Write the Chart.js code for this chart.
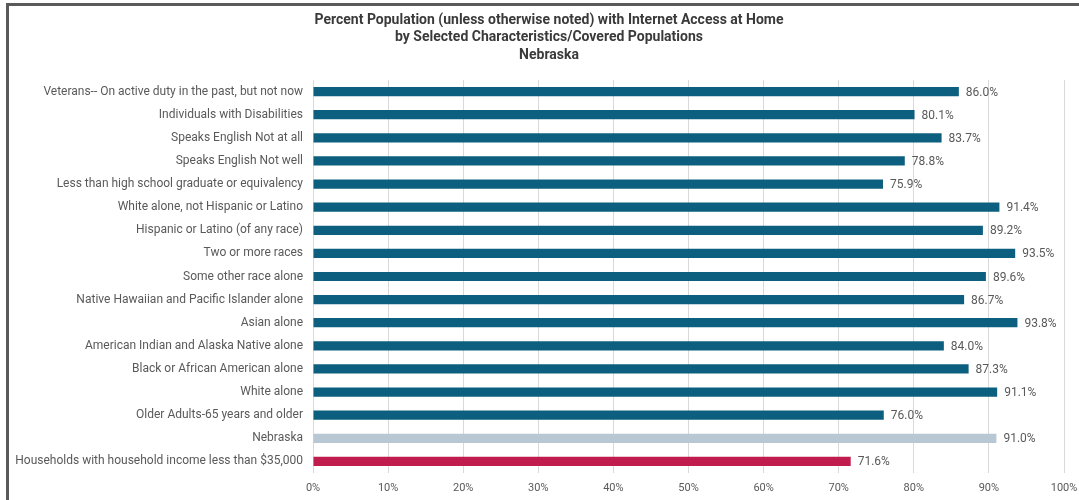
<!DOCTYPE html>
<html>
<head>
<meta charset="utf-8">
<script src="https://cdn.jsdelivr.net/npm/chart.js@4"></script>
<style>
  html, body { margin: 0; padding: 0; background: #fff; }
  #wrap { position: relative; width: 1079px; height: 500px; overflow: hidden; }
  #frame { position: absolute; left: 6px; top: 3px; width: 1200px; height: 600px;
           border-top: 3px solid #5a5a5a; border-left: 3px solid #5a5a5a; }
  #chart { position: absolute; left: 0; top: 0; }
</style>
</head>
<body>
<div id="wrap">
  <div id="frame"></div>
  <canvas id="chart" width="1079" height="500"></canvas>
</div>
<script>
// categories, top to bottom
const categories = [
  'Veterans-- On active duty in the past, but not now',
  'Individuals with Disabilities',
  'Speaks English Not at all',
  'Speaks English Not well',
  'Less than high school graduate or equivalency',
  'White alone, not Hispanic or Latino',
  'Hispanic or Latino (of any race)',
  'Two or more races',
  'Some other race alone',
  'Native Hawaiian and Pacific Islander alone',
  'Asian alone',
  'American Indian and Alaska Native alone',
  'Black or African American alone',
  'White alone',
  'Older Adults-65 years and older',
  'Nebraska',
  'Households with household income less than $35,000'
];
const values = [86.0, 80.1, 83.7, 78.8, 75.9, 91.4, 89.2, 93.5, 89.6, 86.7, 93.8, 84.0, 87.3, 91.1, 76.0, 91.0, 71.6];
const xTicks = [0, 10, 20, 30, 40, 50, 60, 70, 80, 90, 100];
const titleLines = [
  'Percent Population (unless otherwise noted) with Internet Access at Home',
  'by Selected Characteristics/Covered Populations',
  'Nebraska'
];

const BLUE = '#0d5f7f';
const GREY = '#b8c7d4';
const RED = '#c01c4e';
const TEXT = '#595959';
const FONT = "Roboto, 'Liberation Sans', sans-serif";

const barColors = categories.map(c =>
  c === 'Nebraska' ? GREY : (c.startsWith('Households') ? RED : BLUE));

// title drawn by hand so it can sit a bit right of centre, like the original
const titleBlock = {
  id: 'titleBlock',
  afterDraw(chart) {
    const ctx = chart.ctx;
    ctx.save();
    ctx.font = 'bold 14px ' + FONT;
    ctx.fillStyle = '#3a3a3a';
    ctx.textAlign = 'center';
    ctx.textBaseline = 'middle';
    titleLines.forEach((t, i) => ctx.fillText(t, 549, 20 + i * 17.5));
    ctx.restore();
  }
};

// simple value labels at the end of each bar
const valueLabels = {
  id: 'valueLabels',
  afterDatasetsDraw(chart) {
    const ctx = chart.ctx;
    const meta = chart.getDatasetMeta(0);
    ctx.save();
    ctx.font = '12px ' + FONT;
    ctx.fillStyle = TEXT;
    ctx.textAlign = 'left';
    ctx.textBaseline = 'middle';
    meta.data.forEach((bar, i) => {
      ctx.fillText(values[i].toFixed(1) + '%', bar.x + 7, bar.y + 1);
    });
    ctx.restore();
  }
};

Chart.defaults.font.family = FONT;
Chart.defaults.color = TEXT;

new Chart(document.getElementById('chart'), {
  type: 'bar',
  data: {
    labels: categories,
    datasets: [{
      data: values,
      backgroundColor: barColors,
      barPercentage: 0.4,
      categoryPercentage: 1
    }]
  },
  options: {
    indexAxis: 'y',
    responsive: false,
    animation: false,
    layout: { padding: { left: 0, right: 15, top: 80, bottom: 0 } },
    plugins: {
      legend: { display: false },
      tooltip: { enabled: false },
      title: { display: false }
    },
    scales: {
      x: {
        min: 0, max: 100,
        afterBuildTicks(scale) { scale.ticks = xTicks.map(v => ({ value: v })); },
        grid: { color: '#d9d9d9', drawTicks: false },
        border: { display: false },
        ticks: {
          padding: 9,
          color: TEXT,
          font: { size: 11 },
          callback: v => v + '%'
        },
        afterFit(scale) {
          scale.height = 27;
          scale.paddingRight = 0;
          scale.paddingLeft = 0;
        }
      },
      y: {
        grid: { display: false, drawTicks: false },
        border: { display: false },
        ticks: { padding: 10, color: TEXT, font: { size: 12 }, autoSkip: false },
        afterFit(scale) { scale.width = 313; }
      }
    }
  },
  plugins: [valueLabels, titleBlock]
});
</script>
</body>
</html>
